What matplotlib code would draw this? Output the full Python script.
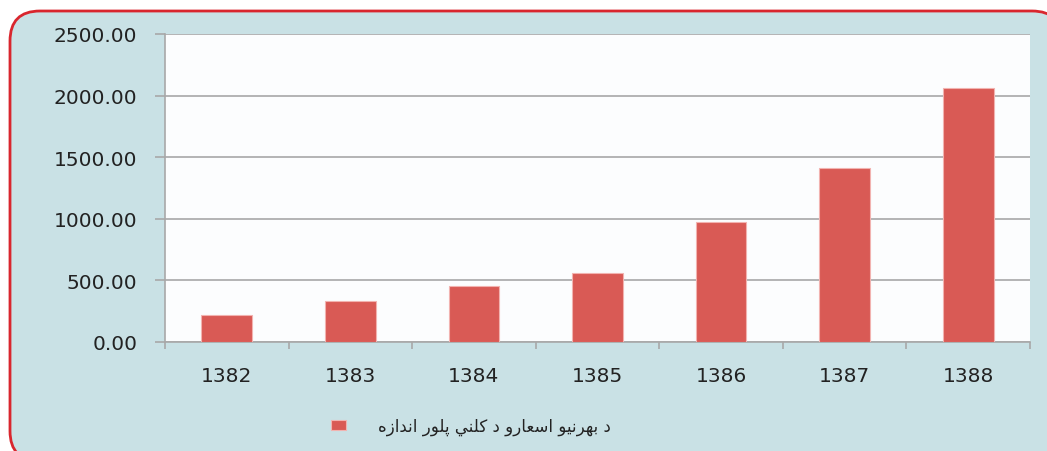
import matplotlib.pyplot as plt
from matplotlib.patches import FancyBboxPatch
from matplotlib.ticker import FixedLocator, FormatStrFormatter

years = ['1382', '1383', '1384', '1385', '1386', '1387', '1388']
values = [217, 331, 453, 559, 975, 1413, 2065]
y_ticks = [0, 500, 1000, 1500, 2000, 2500]
label = 'د بهرنيو اسعارو د كلني پلور اندازه'

# presentation forms: isolated, final, initial, medial (None = does not join left)
FORMS = {
    'ا': ('\uFE8D', '\uFE8E', None, None),
    'ب': ('\uFE8F', '\uFE90', '\uFE91', '\uFE92'),
    'پ': ('\uFB56', '\uFB57', '\uFB58', '\uFB59'),
    'د': ('\uFEA9', '\uFEAA', None, None),
    'ر': ('\uFEAD', '\uFEAE', None, None),
    'ز': ('\uFEAF', '\uFEB0', None, None),
    'س': ('\uFEB1', '\uFEB2', '\uFEB3', '\uFEB4'),
    'ع': ('\uFEC9', '\uFECA', '\uFECB', '\uFECC'),
    'ك': ('\uFED9', '\uFEDA', '\uFEDB', '\uFEDC'),
    'ل': ('\uFEDD', '\uFEDE', '\uFEDF', '\uFEE0'),
    'ن': ('\uFEE5', '\uFEE6', '\uFEE7', '\uFEE8'),
    'ه': ('\uFEE9', '\uFEEA', '\uFEEB', '\uFEEC'),
    'و': ('\uFEED', '\uFEEE', None, None),
    'ي': ('\uFEF1', '\uFEF2', '\uFEF3', '\uFEF4'),
}


def shape(text):
    out = []
    for i, ch in enumerate(text):
        if ch not in FORMS:
            out.append(ch)
            continue
        prev = text[i - 1] if i > 0 else ' '
        nxt = text[i + 1] if i + 1 < len(text) else ' '
        joins_prev = prev in FORMS and FORMS[prev][2] is not None
        joins_next = nxt in FORMS and FORMS[ch][2] is not None
        f = FORMS[ch]
        if joins_prev and joins_next:
            out.append(f[3])
        elif joins_prev:
            out.append(f[1])
        elif joins_next:
            out.append(f[2])
        else:
            out.append(f[0])
    return ''.join(reversed(out))


plt.rcParams['font.family'] = ['DejaVu Sans']
fig = plt.figure(figsize=(10.47, 4.52), dpi=100)
fig.patch.set_facecolor('white')

# rounded panel behind the chart, running off the right and bottom edges
box = FancyBboxPatch((10, -10), 1052, 450, boxstyle='round,pad=0,rounding_size=30',
                     transform=None, facecolor='#C9E1E5', edgecolor='#D9262E',
                     linewidth=2, zorder=-5)
fig.add_artist(box)

ax = fig.add_axes([165 / 1047, 1 - 343 / 452, 865 / 1047, 308 / 452])
ax.set_facecolor('#FCFDFE')

x = list(range(len(years)))
ax.bar(x, values, width=0.41, color='#D95A55', edgecolor='#F2B3B0', linewidth=0.8,
       label=label, zorder=3)

ax.set_xlim(-0.5, len(years) - 0.5)
ax.set_ylim(0, 2500)
ax.set_yticks(y_ticks)
ax.yaxis.set_major_formatter(FormatStrFormatter('%.2f'))
ax.set_xticks(x, years)
ax.xaxis.set_minor_locator(FixedLocator([i + 0.5 for i in range(-1, len(years))]))

ax.grid(axis='y', color='#B4B4B4', linewidth=1.4, zorder=1)
for s in ['top', 'right']:
    ax.spines[s].set_visible(False)
for s in ['left', 'bottom']:
    ax.spines[s].set_color('#A8A8A8')
    ax.spines[s].set_linewidth(1.2)

ax.tick_params(axis='y', length=7, width=1.2, color='#A8A8A8', pad=13,
               labelsize=14.5, labelcolor='#222222')
ax.tick_params(axis='x', which='major', length=0, pad=17, labelsize=14.5,
               labelcolor='#222222')
ax.tick_params(axis='x', which='minor', length=5, width=1.2, color='#A8A8A8')

leg = ax.legend(loc='center left', bbox_to_anchor=(316 / 1047, 1 - 427 / 452),
                bbox_transform=fig.transFigure, frameon=False, fontsize=12,
                handlelength=0.9, handleheight=0.62, handletextpad=1.95)
for t in leg.get_texts():
    t.set_text(shape(label))
    t.set_color('#222222')

fig.savefig('out.png', dpi=100)
